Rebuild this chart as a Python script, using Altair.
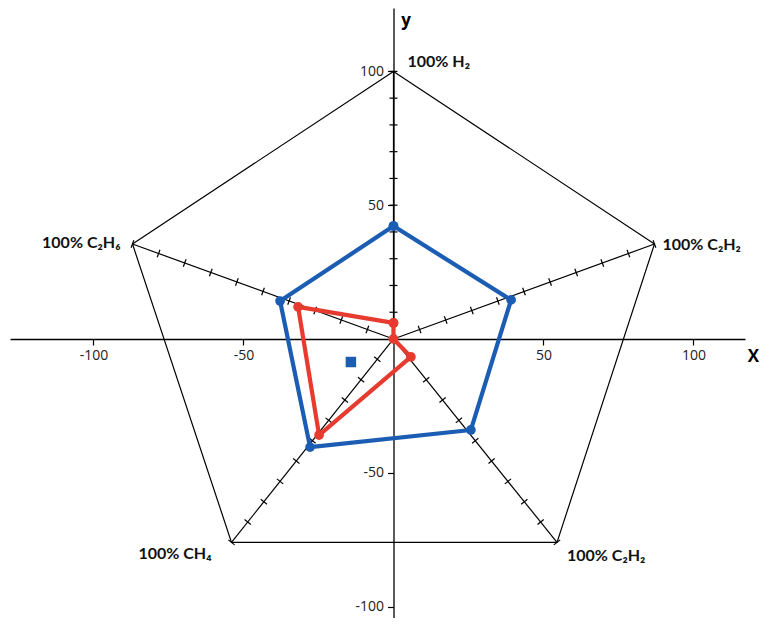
import math
import altair as alt
import pandas as pd

# ---------------- data ----------------
# pentagon vertices, clockwise from the top
vertex_labels = ["100% H₂", "100% C₂H₂", "100% C₂H₂", "100% CH₄", "100% C₂H₆"]
vertex_x = [0, 87, 54.5, -54, -87]
vertex_y = [100, 35.5, -76, -76, 35.5]

# blue sample polygon (same vertex order)
blue_x = [0, 39.2, 25.8, -27.8, -37.8]
blue_y = [42.2, 14.6, -34.0, -40.4, 14.2]

# red sample polygon (same vertex order)
red_x = [0, 0, 5.8, -24.8, -31.8]
red_y = [6.0, 0, -6.7, -35.9, 12.0]

# centroid marker
centroid_x = [-14.2]
centroid_y = [-8.6]

x_tick_values = [-100, -50, 50, 100]
y_tick_values = [-100, -50, 50, 100]
tick_fractions = [0.1, 0.2, 0.3, 0.4, 0.5, 0.6, 0.7, 0.8, 0.9, 1.0]

# ---------------- styling ----------------
W, H = 754, 610
BLUE = "#1c5db4"
RED = "#e63b2e"
LABEL_FONT = "Lato, Noto Sans, DejaVu Sans, sans-serif"
NUM_FONT = "Open Sans, Noto Sans, sans-serif"

X_SCALE = alt.Scale(domain=[-127.83, 117.17], range=[2, 737], nice=False, zero=False)
Y_SCALE = alt.Scale(domain=[-104.26, 123.69], range=[H, 0], nice=False, zero=False)
PX_X, PX_Y = 3.0, 2.676  # pixels per unit (for tick orientation only)

X_AXIS = alt.Axis(
    values=x_tick_values, offset=-279, grid=False,
    domainColor="black", domainWidth=1.3, tickColor="black", tickWidth=1.2, tickSize=6,
    labelFont=NUM_FONT, labelFontSize=14, labelColor="#222", labelPadding=3,
    labelFlush=False, labelOverlap=False, labelExpr="'' + datum.value",
    title="X", titleX=745, titleY=17, titleAlign="center", titleBaseline="middle",
    titleFont=NUM_FONT, titleFontSize=17, titleFontWeight="bold", titleColor="black",
)
Y_AXIS = alt.Axis(
    values=y_tick_values, offset=-385.5, grid=False,
    domainColor="black", domainWidth=1.3, tickColor="black", tickWidth=1.2, tickSize=6,
    labelFont=NUM_FONT, labelFontSize=14, labelColor="#222", labelPadding=4,
    labelFlush=False, labelOverlap=False, labelExpr="'' + datum.value",
    title="y", titleAngle=0, titleX=12, titleY=12, titleAlign="center", titleBaseline="middle",
    titleFont=NUM_FONT, titleFontSize=17, titleFontWeight="bold", titleColor="black",
)


def X(f):
    return alt.X(f, type="quantitative", scale=X_SCALE, axis=X_AXIS)


def Y(f):
    return alt.Y(f, type="quantitative", scale=Y_SCALE, axis=Y_AXIS)


def closed(xs, ys):
    rows = [{"x": xs[i], "y": ys[i], "o": i} for i in range(len(xs))]
    rows.append({"x": xs[0], "y": ys[0], "o": len(xs)})
    return pd.DataFrame(rows)


# ---------------- tables ----------------
pent_df = closed(vertex_x, vertex_y)
vert_df = pd.DataFrame({"x": vertex_x, "y": vertex_y, "label": vertex_labels,
                        "k": list(range(len(vertex_x)))})
radial_df = pd.DataFrame({"x0": [0] * len(vertex_x), "y0": [0] * len(vertex_y),
                          "x": vertex_x, "y": vertex_y})
tick_rows = []
for vx, vy in zip(vertex_x, vertex_y):
    ang = math.degrees(math.atan2(-PX_Y * vy, PX_X * vx)) % 360
    for f in tick_fractions:
        tick_rows.append({"x": f * vx, "y": f * vy, "angle": ang})
tick_df = pd.DataFrame(tick_rows)
blue_df = closed(blue_x, blue_y)
red_df = closed(red_x, red_y)
cent_df = pd.DataFrame({"x": centroid_x, "y": centroid_y})

# ---------------- layers ----------------
pentagon = alt.Chart(pent_df).mark_line(color="black", strokeWidth=1.2).encode(
    x=X("x"), y=Y("y"), order="o:Q")

radials = alt.Chart(radial_df).mark_rule(color="black", strokeWidth=1.2).encode(
    x=X("x0"), y=Y("y0"), x2="x", y2="y")

ticks = alt.Chart(tick_df).mark_point(
    shape="M0,-1L0,1", filled=False, stroke="black", strokeWidth=1.2, size=64, opacity=1
).encode(x=X("x"), y=Y("y"), angle=alt.Angle("angle:Q", scale=None))

blue_line = alt.Chart(blue_df).mark_line(color=BLUE, strokeWidth=4.2, strokeJoin="round").encode(
    x=X("x"), y=Y("y"), order="o:Q")
blue_pts = alt.Chart(blue_df).mark_circle(color=BLUE, size=95, opacity=1).encode(
    x=X("x"), y=Y("y"))

red_line = alt.Chart(red_df).mark_line(color=RED, strokeWidth=4.2, strokeJoin="round").encode(
    x=X("x"), y=Y("y"), order="o:Q")
red_pts = alt.Chart(red_df).mark_circle(color=RED, size=95, opacity=1).encode(
    x=X("x"), y=Y("y"))

centroid = alt.Chart(cent_df).mark_square(color=BLUE, size=110, opacity=1).encode(
    x=X("x"), y=Y("y"))

label_style = [  # (vertex index, align, dx, dy)
    (0, "left", 14, -9),
    (1, "left", 8, 1),
    (2, "left", 10, 14),
    (3, "right", -20, 12),
    (4, "right", -12, -1),
]
label_layers = []
for k, align, dx, dy in label_style:
    label_layers.append(
        alt.Chart(vert_df).transform_filter(alt.datum.k == k).mark_text(
            align=align, baseline="middle", dx=dx, dy=dy, font=LABEL_FONT,
            fontSize=16, fontWeight="bold", color="#111"
        ).encode(x=X("x"), y=Y("y"), text="label:N")
    )

chart = alt.layer(
    pentagon, radials, ticks, blue_line, red_line, blue_pts, red_pts, centroid, *label_layers
).properties(
    width=W, height=H, padding=0, autosize=alt.AutoSizeParams(type="none"),
    background="white",
).configure_view(stroke=None)

chart.save("out.html", embed_options={"renderer": "svg", "actions": False})
